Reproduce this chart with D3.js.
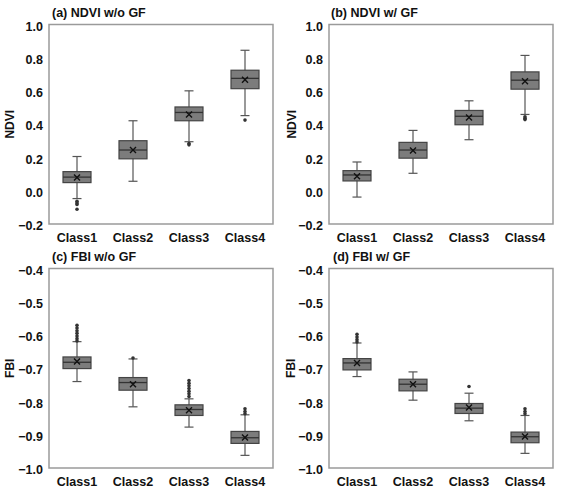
<!DOCTYPE html>
<html>
<head>
<meta charset="utf-8">
<script src="https://cdn.jsdelivr.net/npm/d3@7/dist/d3.min.js"></script>
<style>
  body { margin: 0; background: #fff; }
  text { font-family: "Liberation Sans", Arial, sans-serif; font-weight: bold; fill: #111; }
</style>
</head>
<body>
<svg id="chart" width="571" height="491"></svg>
<script>
const classes = ["Class1", "Class2", "Class3", "Class4"];

// box stats per class: [lowWhisker, q1, median, q3, highWhisker, mean]
const ndviNoGF = [
  [-0.047, 0.049, 0.082, 0.115, 0.206, 0.080],
  [0.057, 0.192, 0.245, 0.301, 0.421, 0.245],
  [0.295, 0.421, 0.471, 0.504, 0.601, 0.459],
  [0.452, 0.614, 0.676, 0.725, 0.845, 0.667]
];
const ndviNoGFOut = [[-0.063, -0.073, -0.082, -0.111], [], [0.284, 0.276], [0.425]];

const ndviGF = [
  [-0.038, 0.059, 0.095, 0.121, 0.173, 0.087],
  [0.105, 0.196, 0.245, 0.291, 0.363, 0.242],
  [0.307, 0.397, 0.448, 0.483, 0.541, 0.440],
  [0.459, 0.611, 0.665, 0.715, 0.814, 0.659]
];
const ndviGFOut = [[], [], [], [0.445, 0.436, 0.428]];

const fbiNoGF = [
  [-0.740, -0.701, -0.682, -0.666, -0.620, -0.680],
  [-0.816, -0.766, -0.743, -0.728, -0.672, -0.748],
  [-0.877, -0.842, -0.824, -0.810, -0.792, -0.826],
  [-0.962, -0.926, -0.909, -0.890, -0.840, -0.908]
];
const fbiNoGFOut = [
  [-0.571, -0.579, -0.587, -0.595, -0.603, -0.611, -0.618],
  [-0.669],
  [-0.737, -0.745, -0.753, -0.761, -0.769, -0.777, -0.785],
  [-0.822, -0.830, -0.837]
];

const fbiGF = [
  [-0.725, -0.705, -0.684, -0.671, -0.624, -0.684],
  [-0.796, -0.768, -0.748, -0.733, -0.711, -0.748],
  [-0.858, -0.836, -0.820, -0.806, -0.775, -0.818],
  [-0.956, -0.924, -0.906, -0.892, -0.842, -0.905]
];
const fbiGFOut = [
  [-0.598, -0.606, -0.614, -0.621],
  [],
  [-0.755],
  [-0.822, -0.830, -0.837]
];

const ndviTicks = [-0.2, 0.0, 0.2, 0.4, 0.6, 0.8, 1.0];
const fbiTicks = [-1.0, -0.9, -0.8, -0.7, -0.6, -0.5, -0.4];

const panels = [
  {title: "(a) NDVI w/o GF", ylab: "NDVI", stats: ndviNoGF, out: ndviNoGFOut, ticks: ndviTicks, domain: [-0.2, 1.0], x0: 49, y0: 24.5, labX: 10, titleX: 52},
  {title: "(b) NDVI w/ GF", ylab: "NDVI", stats: ndviGF, out: ndviGFOut, ticks: ndviTicks, domain: [-0.2, 1.0], x0: 329, y0: 24.5, labX: 292, titleX: 331},
  {title: "(c) FBI w/o GF", ylab: "FBI", stats: fbiNoGF, out: fbiNoGFOut, ticks: fbiTicks, domain: [-1.0, -0.4], x0: 49, y0: 268.5, labX: 10, titleX: 52},
  {title: "(d) FBI w/ GF", ylab: "FBI", stats: fbiGF, out: fbiGFOut, ticks: fbiTicks, domain: [-1.0, -0.4], x0: 329, y0: 268.5, labX: 291, titleX: 333}
];

const svg = d3.select("#chart");
const plotW = 224, plotH = 199.5;
const boxW = 28, capW = 9;

panels.forEach(function(p) {
  let g = svg.append("g").attr("transform", "translate(" + p.x0 + "," + p.y0 + ")");

  let x = d3.scaleBand().domain(classes).range([0, plotW]);
  let y = d3.scaleLinear().domain(p.domain).range([plotH, 0]);

  // y axis labels, no tick marks
  let yAxis = g.append("g")
    .call(d3.axisLeft(y).tickValues(p.ticks).tickSize(0).tickPadding(6).tickFormat(d3.format(".1f")));
  yAxis.select(".domain").remove();
  yAxis.selectAll("text").attr("font-size", "12.5px").attr("dy", "0.45em").style("font-family", null);

  let xAxis = g.append("g")
    .attr("transform", "translate(0," + plotH + ")")
    .call(d3.axisBottom(x).tickSize(0).tickPadding(9));
  xAxis.select(".domain").remove();
  xAxis.selectAll("text").attr("font-size", "12.5px").style("font-family", null);

  // frame
  g.append("rect")
    .attr("width", plotW).attr("height", plotH)
    .attr("fill", "none").attr("stroke", "#9a9a9a").attr("stroke-width", 1.5);

  let boxes = g.selectAll(".box")
    .data(p.stats)
    .enter()
    .append("g")
    .attr("transform", function(d, i) { return "translate(" + (x(classes[i]) + x.bandwidth() / 2) + ",0)"; });

  // whiskers
  boxes.append("line")
    .attr("y1", function(d) { return y(d[0]); })
    .attr("y2", function(d) { return y(d[4]); })
    .attr("stroke", "#555").attr("stroke-width", 1.2);
  boxes.append("line")
    .attr("x1", -capW / 2).attr("x2", capW / 2)
    .attr("y1", function(d) { return y(d[0]); }).attr("y2", function(d) { return y(d[0]); })
    .attr("stroke", "#555").attr("stroke-width", 1.2);
  boxes.append("line")
    .attr("x1", -capW / 2).attr("x2", capW / 2)
    .attr("y1", function(d) { return y(d[4]); }).attr("y2", function(d) { return y(d[4]); })
    .attr("stroke", "#555").attr("stroke-width", 1.2);

  // box
  boxes.append("rect")
    .attr("x", -boxW / 2).attr("width", boxW)
    .attr("y", function(d) { return y(d[3]); })
    .attr("height", function(d) { return y(d[1]) - y(d[3]); })
    .attr("fill", "#7c7c7c").attr("stroke", "#444").attr("stroke-width", 1.2);

  // median
  boxes.append("line")
    .attr("x1", -boxW / 2).attr("x2", boxW / 2)
    .attr("y1", function(d) { return y(d[2]); }).attr("y2", function(d) { return y(d[2]); })
    .attr("stroke", "#333").attr("stroke-width", 1.3);

  // mean marker
  boxes.append("path")
    .attr("d", function(d) {
      let m = y(d[5]), s = 3;
      return "M" + (-s) + "," + (m - s) + "L" + s + "," + (m + s) + "M" + (-s) + "," + (m + s) + "L" + s + "," + (m - s);
    })
    .attr("stroke", "#111").attr("stroke-width", 1.4);

  // outliers
  boxes.each(function(d, i) {
    d3.select(this).selectAll("circle")
      .data(p.out[i])
      .enter()
      .append("circle")
      .attr("r", 1.8)
      .attr("cy", function(v) { return y(v); })
      .attr("fill", "#333");
  });

  // title
  svg.append("text")
    .attr("x", p.titleX).attr("y", p.y0 - 8)
    .attr("font-size", "12.5px")
    .text(p.title);

  // y label
  svg.append("text")
    .attr("transform", "translate(" + p.labX + "," + (p.y0 + plotH / 2) + ") rotate(-90)")
    .attr("dy", "0.35em")
    .attr("text-anchor", "middle")
    .attr("font-size", "12px")
    .text(p.ylab);
});
</script>
</body>
</html>
